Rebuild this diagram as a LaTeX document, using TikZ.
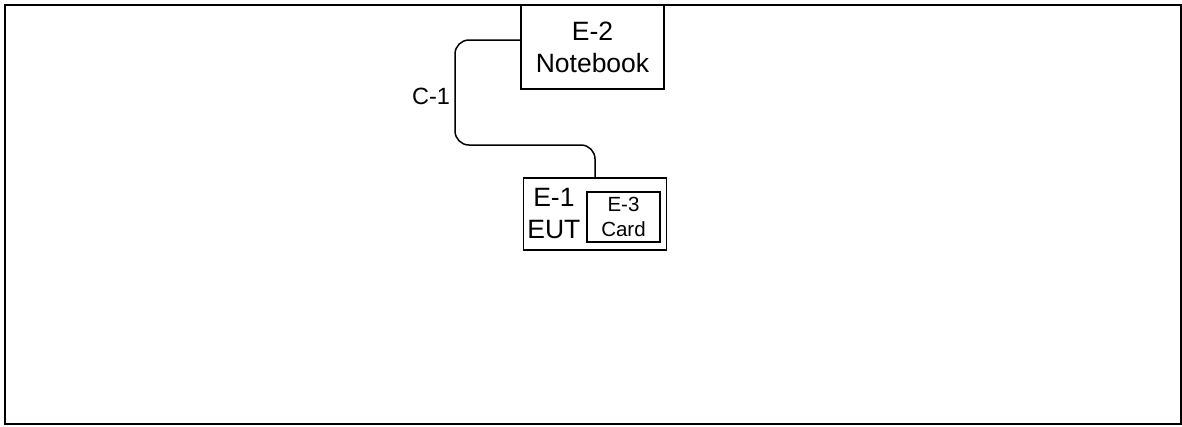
\documentclass[tikz,border=0pt]{standalone}
\usepackage{fontspec}
\setmainfont{Liberation Sans}
\usetikzlibrary{positioning,calc}

\begin{document}
\begin{tikzpicture}[
  x=1pt, y=-1pt,
  unit/.style={draw=black, line width=1.3pt, inner sep=0pt, align=center},
  bigtext/.style={font=\fontsize{26.5}{32}\selectfont, align=center},
  smalltext/.style={font=\fontsize{20.5}{25}\selectfont, align=center},
  cable/.style={draw=black, line width=1.5pt, rounded corners=14pt},
]
  \useasboundingbox (0,0) rectangle (1182,426);

  %% ---- Frame ----
  \draw[line width=1.5pt] (5,5) rectangle (1181,424);

  %% ---- Equipment ----
  \node[unit, bigtext, minimum width=143pt, minimum height=84pt] (nb) at (592.5,47) {E-2\\Notebook};
  \node[unit, minimum width=143pt, minimum height=72pt] (eut) at (595,214) {};
  \node[bigtext, anchor=west] (eutlbl) at ([xshift=1pt]eut.west) {E-1\\EUT};
  \node[unit, smalltext, minimum width=73pt, minimum height=50pt] (card) at (623.5,217) {E-3\\Card};

  %% ---- Cable ----
  \coordinate (bend) at (455,145);
  \draw[cable] ([yshift=7pt]nb.west) -| (bend) -| (eut.north);
  \node[font=\fontsize{23.5}{28}\selectfont] (c1) at (431,96) {C-1};

\end{tikzpicture}
\end{document}
